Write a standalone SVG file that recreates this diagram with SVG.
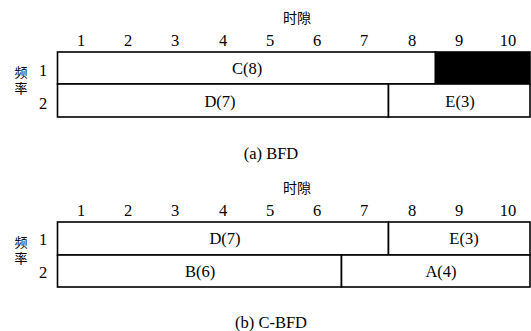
<svg xmlns="http://www.w3.org/2000/svg" width="531" height="331" viewBox="0 0 531 331">
<style>
.t{font-family:"Liberation Serif",serif;font-size:16.5px;fill:#000;text-anchor:middle}
.c{font-family:"Noto Sans CJK SC",sans-serif;font-size:14px;fill:#000;text-anchor:middle}
.v{font-family:"Noto Sans CJK SC",sans-serif;font-size:13px;fill:#000;writing-mode:vertical-rl;letter-spacing:3px}
.box{fill:#fff;stroke:#000;stroke-width:1.6}
.blk{fill:#000;stroke:#000;stroke-width:1.6}
</style>
<rect width="531" height="331" fill="#fff"/>
<g id="chartA">
  <text class="c" x="297" y="23">时隙</text>
  <g class="t">
    <text x="81" y="46">1</text><text x="128" y="46">2</text><text x="175" y="46">3</text><text x="223" y="46">4</text><text x="270" y="46">5</text>
    <text x="317" y="46">6</text><text x="364" y="46">7</text><text x="412" y="46">8</text><text x="459" y="46">9</text><text x="508" y="46">10</text>
    <text x="43" y="76">1</text><text x="43" y="109">2</text>
  </g>
  <text class="v" x="21" y="66">频率</text>
  <g id="a-C"><rect class="box" x="57.5" y="52" width="378" height="32"/><text class="t" x="247" y="74">C(8)</text></g>
  <g id="a-idle"><rect class="blk" x="435.5" y="52" width="94.5" height="32"/></g>
  <g id="a-D"><rect class="box" x="57.5" y="84" width="331" height="33"/><text class="t" x="220" y="107">D(7)</text></g>
  <g id="a-E"><rect class="box" x="388.5" y="84" width="141.5" height="33"/><text class="t" x="460" y="107">E(3)</text></g>
  <text class="t" x="271" y="159">(a)  BFD</text>
</g>
<g id="chartB">
  <text class="c" x="297" y="193">时隙</text>
  <g class="t">
    <text x="81" y="216">1</text><text x="128" y="216">2</text><text x="175" y="216">3</text><text x="223" y="216">4</text><text x="270" y="216">5</text>
    <text x="317" y="216">6</text><text x="364" y="216">7</text><text x="412" y="216">8</text><text x="459" y="216">9</text><text x="508" y="216">10</text>
    <text x="43" y="245">1</text><text x="43" y="278">2</text>
  </g>
  <text class="v" x="21" y="236">频率</text>
  <g id="b-D"><rect class="box" x="57.5" y="222" width="331" height="33"/><text class="t" x="225" y="244">D(7)</text></g>
  <g id="b-E"><rect class="box" x="388.5" y="222" width="141.5" height="33"/><text class="t" x="464" y="244">E(3)</text></g>
  <g id="b-B"><rect class="box" x="57.5" y="255" width="284" height="32"/><text class="t" x="200" y="277">B(6)</text></g>
  <g id="b-A"><rect class="box" x="341.5" y="255" width="188.5" height="32"/><text class="t" x="441" y="277">A(4)</text></g>
  <text class="t" x="271" y="328">(b)  C-BFD</text>
</g>
</svg>
